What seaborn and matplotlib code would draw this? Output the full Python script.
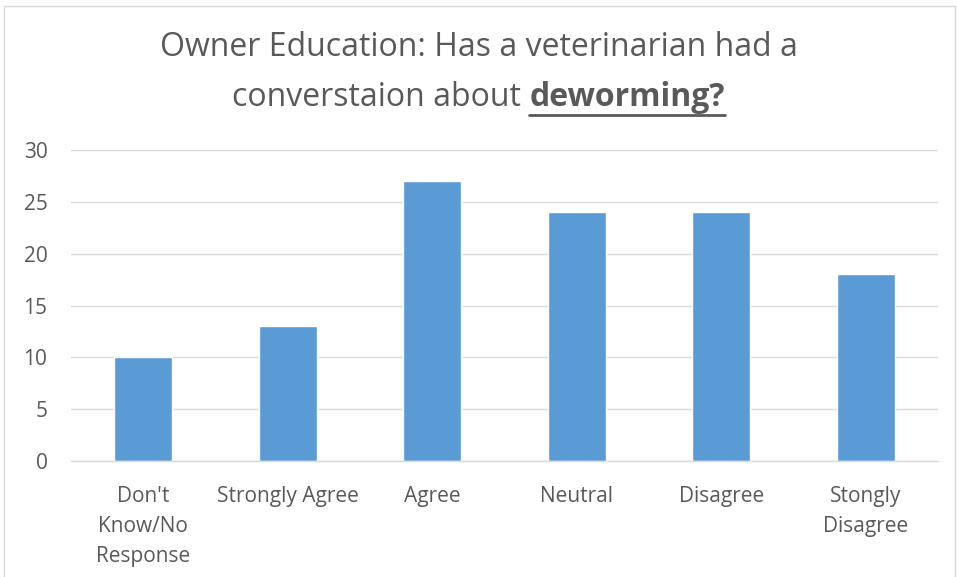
import matplotlib
matplotlib.use("Agg")
import matplotlib.pyplot as plt
import seaborn as sns
import pandas as pd
from matplotlib.lines import Line2D
from matplotlib.patches import Rectangle

categories = ["Don't\nKnow/No\nResponse", "Strongly Agree", "Agree", "Neutral", "Disagree", "Stongly\nDisagree"]
counts = [10, 13, 27, 24, 24, 18]
y_ticks = [0, 5, 10, 15, 20, 25, 30]

sns.set_theme(style="white")
plt.rcParams['font.family'] = ['Open Sans', 'DejaVu Sans']

W, H = 957, 577
fig = plt.figure(figsize=(W / 100, H / 100), dpi=100)
ax = fig.add_axes([71 / W, (H - 461) / H, (938 - 71) / W, (461 - 150) / H])

df = pd.DataFrame({"category": categories, "count": counts})
sns.barplot(data=df, x="category", y="count", color="#5B9BD5", width=0.4, ax=ax, saturation=1)

ax.set_ylim(0, 30)
ax.set_yticks(y_ticks)
ax.yaxis.grid(True, color="#D9D9D9", linewidth=1)
ax.set_axisbelow(True)
for side in ["left", "right", "top"]:
    ax.spines[side].set_visible(False)
ax.spines["bottom"].set_color("#D9D9D9")
ax.spines["bottom"].set_linewidth(1)
ax.set_xlabel("")
ax.set_ylabel("")
ax.tick_params(axis="both", length=0, labelsize=15, labelcolor="#595959")
ax.tick_params(axis="x", pad=18)
ax.tick_params(axis="y", pad=17)
for lbl in ax.get_xticklabels():
    lbl.set_linespacing(1.55)

# chart border
fig.patches.append(Rectangle((4 / W, -0.01), (955 - 4) / W, 1 - 6 / H + 0.01,
                             transform=fig.transFigure, fill=False,
                             edgecolor="#D9D9D9", linewidth=1))

# title: line 1 plain, line 2 with bold underlined word
tcolor = "#595959"
fsize = 23
fig.text(0.5, 1 - 48 / H, "Owner Education: Has a veterinarian had a",
         ha="center", va="center", fontsize=fsize, color=tcolor)
y2 = 1 - 98 / H
t_a = fig.text(0, y2, "converstaion about ", ha="left", va="center", fontsize=fsize, color=tcolor)
t_b = fig.text(0, y2, "deworming?", ha="left", va="center", fontsize=fsize, color=tcolor, fontweight="bold")
fig.canvas.draw()
r = fig.canvas.get_renderer()
wa = t_a.get_window_extent(r).width / W
wb = t_b.get_window_extent(r).width / W
x0 = 0.5 - (wa + wb) / 2
t_a.set_x(x0)
t_b.set_x(x0 + wa)
uy = 1 - 115 / H
fig.lines.append(Line2D([x0 + wa, x0 + wa + wb], [uy, uy], transform=fig.transFigure,
                        color=tcolor, linewidth=2))

fig.savefig("out.png", dpi=100)
